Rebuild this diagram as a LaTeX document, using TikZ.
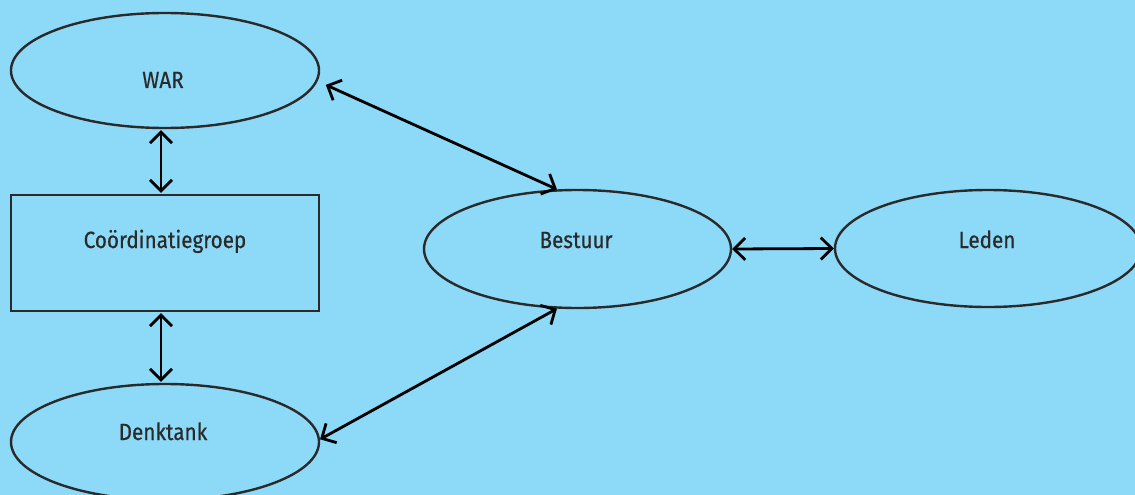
\documentclass[tikz,border=0pt]{standalone}
\usepackage{fontspec}
\setmainfont{Fira Sans}[FakeStretch=0.88,FakeBold=0.4]
\usetikzlibrary{shapes.geometric,arrows.meta}
\definecolor{bg}{HTML}{8DD9F8}
\definecolor{ink}{HTML}{2A2A2A}
\tikzset{
  shp/.style={draw=ink, line width=2.4pt, inner sep=0pt},
  ell/.style={shp, ellipse, minimum width=308pt, minimum height=115pt},
  box/.style={shp, rectangle, minimum width=308pt, minimum height=116pt},
  lbl/.style={anchor=base, text=ink, font=\fontsize{23.5}{26}\selectfont, inner sep=0pt},
  arr/.style={black, line width=2.8pt, {Straight Barb[length=11pt,width=22pt,line width=2.8pt]}-{Straight Barb[length=11pt,width=22pt,line width=2.8pt]}}
}
\begin{document}
\begin{tikzpicture}[x=1pt,y=-1pt]
\fill[bg] (0,0) rectangle (1135,495);
\useasboundingbox (0,0) rectangle (1135,495);
\node[ell] (war) at (165,70.5) {};
\node[box] (coord) at (165,253) {};
\node[ell, minimum height=116pt] (dk) at (165,442) {};
\node[ell, minimum width=307pt, minimum height=118pt] (best) at (577.5,249) {};
\node[ell, minimum width=306pt, minimum height=117pt] (leden) at (988,248.5) {};
\node[lbl] (twar) at (163,88) {WAR};
\node[lbl] (tcoord) at (165,248) {Coördinatiegroep};
\node[lbl] (tbest) at (576,248) {Bestuur};
\node[lbl] (tleden) at (987,248) {Leden};
\node[lbl] (tdk) at (163,440) {Denktank};
\draw[arr] ([xshift=-4pt,yshift=-1pt]war.south) -- ([xshift=-4pt,yshift=1pt]coord.north);
\draw[arr] ([xshift=-4pt,yshift=-1pt]coord.south) -- ([xshift=-4pt,yshift=1pt]dk.north);
\draw[arr, shorten <=9pt] (war.-4.5) -- (best.109);
\draw[arr] (dk.1) -- (best.-109);
\draw[arr] (best.east) -- (leden.west);
\end{tikzpicture}
\end{document}
